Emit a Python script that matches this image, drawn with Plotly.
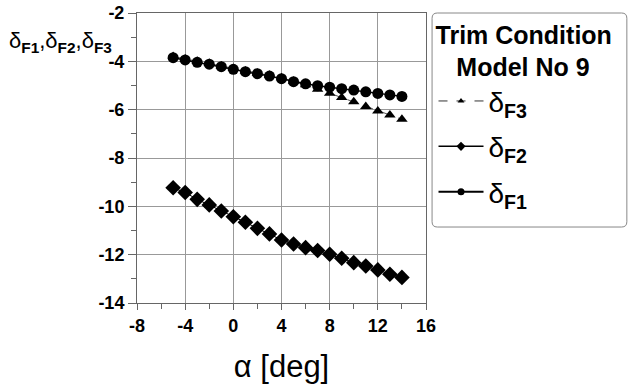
import plotly.graph_objects as go

# Angle of attack [deg]
alpha = list(range(-5, 15))

# Flap deflections for trim, model no 9
delta_f1 = [-3.85, -3.94, -4.04, -4.12, -4.22, -4.33, -4.43, -4.51, -4.61, -4.72,
            -4.84, -4.93, -5.01, -5.07, -5.13, -5.19, -5.26, -5.33, -5.39, -5.45]
delta_f2 = [-9.23, -9.43, -9.71, -9.94, -10.19, -10.43, -10.66, -10.91, -11.14, -11.39,
            -11.56, -11.71, -11.83, -11.98, -12.15, -12.33, -12.47, -12.63, -12.81, -12.94]
delta_f3 = [-3.80, -3.90, -4.00, -4.08, -4.19, -4.30, -4.40, -4.49, -4.58, -4.68,
            -4.82, -4.97, -5.15, -5.32, -5.50, -5.67, -5.87, -6.05, -6.22, -6.40]

x_ticks = [-8, -4, 0, 4, 8, 12, 16]
y_ticks = [-2, -4, -6, -8, -10, -12, -14]

FONT = "Liberation Sans, Arial, sans-serif"
TICKFONT = dict(size=18, family="Liberation Sans", color="black", weight=700)

fig = go.Figure()

# Data series (F3 drawn first so circles sit on top)
fig.add_trace(go.Scatter(
    x=alpha, y=delta_f3, mode="lines+markers", showlegend=False,
    line=dict(color="#555", width=1, dash="dash"),
    marker=dict(symbol="triangle-up", size=10, color="black")))
fig.add_trace(go.Scatter(
    x=alpha, y=delta_f2, mode="lines+markers", showlegend=False,
    line=dict(color="black", width=1),
    marker=dict(symbol="diamond", size=12, color="black")))
fig.add_trace(go.Scatter(
    x=alpha, y=delta_f1, mode="lines+markers", showlegend=False,
    line=dict(color="black", width=1.5),
    marker=dict(symbol="circle", size=11, color="black")))

# Legend-only entries with small symbols
legend_specs = [
    ("F3", "triangle-up", dict(color="#333", width=1, dash="dash"), 6),
    ("F2", "diamond", dict(color="black", width=1.5), 7),
    ("F1", "circle", dict(color="black", width=2), 7),
]
for i, (name, sym, ln, sz) in enumerate(legend_specs):
    fig.add_trace(go.Scatter(
        x=[None], y=[None], mode="lines+markers",
        name="δ<sub><b>%s</b></sub>" % name, legendgroup="g%d" % i,
        line=ln, marker=dict(symbol=sym, size=sz, color="black")))

# Rounded frame around the legend (paper coordinates)
x0, x1, y0, y1, rx, ry = 1.021, 1.695, 0.262, 1.0, 0.018, 0.018
frame = (f"M {x0+rx},{y1} L {x1-rx},{y1} Q {x1},{y1} {x1},{y1-ry} "
         f"L {x1},{y0+ry} Q {x1},{y0} {x1-rx},{y0} L {x0+rx},{y0} "
         f"Q {x0},{y0} {x0},{y0+ry} L {x0},{y1-ry} Q {x0},{y1} {x0+rx},{y1} Z")
fig.add_shape(type="path", path=frame, xref="paper", yref="paper",
              line=dict(color="#888", width=1), fillcolor="white", layer="below")

fig.update_layout(
    width=628, height=391,
    margin=dict(l=137, r=202, t=13, b=88, autoexpand=False),
    paper_bgcolor="white", plot_bgcolor="white",
    font=dict(family=FONT, color="black"),
    showlegend=True,
    legend=dict(
        x=1.026, y=1.006, xanchor="left", yanchor="top",
        bgcolor="rgba(0,0,0,0)", borderwidth=0, maxheight=330,
        font=dict(size=28, family=FONT, color="black"),
        title=dict(text="<b>Trim Condition<br>&nbsp;&nbsp;&nbsp;Model No 9</b>",
                   font=dict(size=25, family=FONT), side="top"),
        traceorder="grouped", tracegroupgap=6, itemwidth=45,
    ),
    xaxis=dict(
        range=[-8, 16], tickvals=x_ticks,
        ticktext=["<b>%d</b>" % v for v in x_ticks],
        showgrid=True, gridcolor="#999", gridwidth=1,
        showline=True, linecolor="#666", linewidth=1, mirror=True,
        ticks="outside", ticklen=6, tickcolor="#666",
        minor=dict(dtick=2, ticks="outside", ticklen=5, tickcolor="#666", showgrid=False),
        tickfont=TICKFONT,
        zeroline=False,
        title=dict(text="α [deg]", font=dict(size=31, family=FONT), standoff=20),
    ),
    yaxis=dict(
        range=[-14, -2], tickvals=y_ticks,
        ticktext=["<b>%d</b>" % v for v in y_ticks],
        showgrid=True, gridcolor="#999", gridwidth=1,
        showline=True, linecolor="#666", linewidth=1, mirror=True,
        ticks="outside", ticklen=8, tickcolor="#666",
        minor=dict(dtick=1, ticks="outside", ticklen=5, tickcolor="#666", showgrid=False),
        tickfont=TICKFONT,
        zeroline=False,
    ),
)

# Vertical-axis caption placed horizontally at the upper left
fig.add_annotation(
    xref="paper", yref="paper", x=-0.45, y=0.9, xanchor="left", yanchor="middle",
    text="δ<sub><b>F1</b></sub>,δ<sub><b>F2</b></sub>,δ<sub><b>F3</b></sub>",
    showarrow=False, font=dict(size=22, family=FONT, color="black"))

fig.write_html("out.html")
